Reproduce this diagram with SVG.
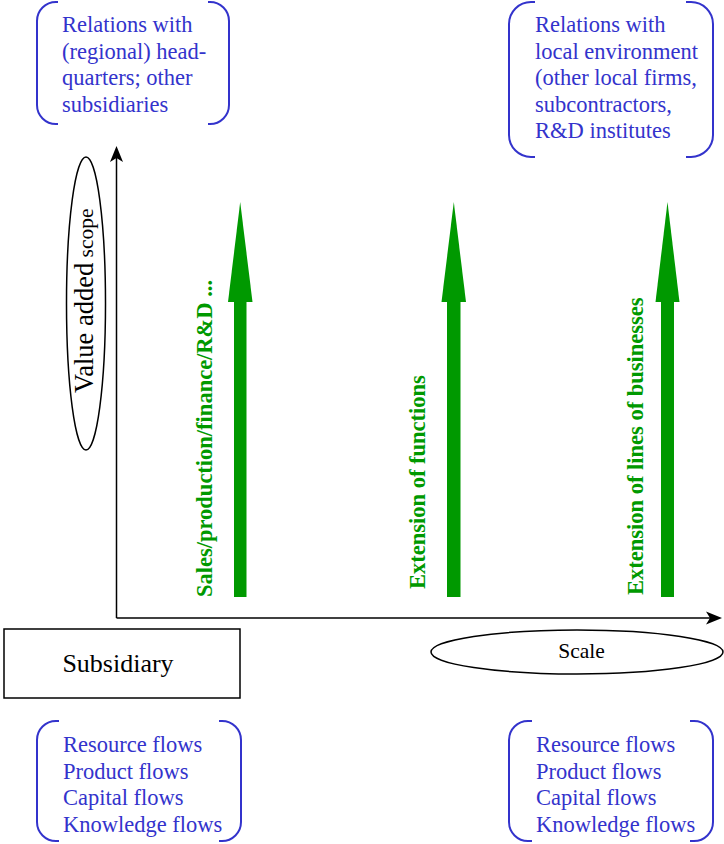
<svg xmlns="http://www.w3.org/2000/svg" width="724" height="844" viewBox="0 0 724 844">
<style>
.blue{font-family:'Liberation Serif','Times New Roman','DejaVu Serif',serif;font-size:22.5px;fill:#3333cc}
.brk{fill:none;stroke:#3333cc;stroke-width:2}
.blk{font-family:'Liberation Serif','Times New Roman','DejaVu Serif',serif;fill:#000}
.grn{font-family:'Liberation Serif','Times New Roman','DejaVu Serif',serif;font-size:22.5px;font-weight:bold;fill:#009900}
.ax{fill:none;stroke:#000;stroke-width:1.5}
.garrow{fill:#009900}
</style>
<rect width="724" height="844" fill="#fff"/>
<g id="connectors">
  <line class="ax" x1="116.5" y1="618" x2="116.5" y2="156"/>
  <path d="M116.5,146 L123,162 L116.5,158 L110,162 Z" fill="#000"/>
  <line class="ax" x1="116.5" y1="618" x2="712" y2="618"/>
  <path d="M722,618 L706,624.5 L710,618 L706,611.5 Z" fill="#000"/>
</g>
<g id="hq-relations">
  <path class="brk" d="M58,2 H56 A19,19 0 0 0 37,21 V105 A19,19 0 0 0 56,124 H58"/>
  <path class="brk" d="M208,2 H210 A19,19 0 0 1 229,21 V105 A19,19 0 0 1 210,124 H208"/>
  <text class="blue" x="62" y="32">Relations with</text>
  <text class="blue" x="62" y="58.5">(regional) head-</text>
  <text class="blue" x="62" y="85">quarters; other</text>
  <text class="blue" x="62" y="111.5">subsidiaries</text>
</g>
<g id="local-relations">
  <path class="brk" d="M535,2 H531 A22,22 0 0 0 509,24 V135 A22,22 0 0 0 531,157 H535"/>
  <path class="brk" d="M686,2 H691 A22,22 0 0 1 713,24 V135 A22,22 0 0 1 691,157 H686"/>
  <text class="blue" x="535" y="32">Relations with</text>
  <text class="blue" x="535" y="58.5">local environment</text>
  <text class="blue" x="535" y="85">(other local firms,</text>
  <text class="blue" x="535" y="111.5">subcontractors,</text>
  <text class="blue" x="535" y="138">R&amp;D institutes</text>
</g>
<g id="value-added-scope">
  <ellipse cx="86" cy="303.5" rx="19.5" ry="146.5" fill="none" stroke="#000" stroke-width="1.5"/>
  <text class="blk" transform="translate(93,393) rotate(-90)"><tspan font-size="26.5">Value added</tspan><tspan font-size="21.5"> scope</tspan></text>
</g>
<g id="arrow-sales">
  <rect class="garrow" x="234" y="300" width="12.5" height="297"/>
  <path class="garrow" d="M240.2,202 L252.5,302 L228,302 Z"/>
  <text class="grn" transform="translate(212,597) rotate(-90)">Sales/production/finance/R&amp;D ...</text>
</g>
<g id="arrow-functions">
  <rect class="garrow" x="447" y="300" width="13.5" height="297"/>
  <path class="garrow" d="M453.8,202 L466,302 L441.5,302 Z"/>
  <text class="grn" transform="translate(425,589) rotate(-90)">Extension of functions</text>
</g>
<g id="arrow-businesses">
  <rect class="garrow" x="661" y="300" width="13" height="297"/>
  <path class="garrow" d="M667.5,202 L679.5,302 L655.5,302 Z"/>
  <text class="grn" transform="translate(643,595) rotate(-90)">Extension of lines of businesses</text>
</g>
<g id="subsidiary">
  <rect x="4" y="629" width="236" height="69" fill="none" stroke="#000" stroke-width="1.5"/>
  <text class="blk" x="118" y="672" font-size="26" text-anchor="middle">Subsidiary</text>
</g>
<g id="scale">
  <ellipse cx="577" cy="652" rx="146" ry="22" fill="none" stroke="#000" stroke-width="1.5"/>
  <text class="blk" x="581.5" y="658" font-size="21.5" text-anchor="middle">Scale</text>
</g>
<g id="flows-left">
  <path class="brk" d="M59,721 H56 A19,19 0 0 0 37,740 V822 A19,19 0 0 0 56,841 H59"/>
  <path class="brk" d="M219,721 H222 A19,19 0 0 1 241,740 V822 A19,19 0 0 1 222,841 H219"/>
  <text class="blue" x="63" y="752">Resource flows</text>
  <text class="blue" x="63" y="778.5">Product flows</text>
  <text class="blue" x="63" y="805">Capital flows</text>
  <text class="blue" x="63" y="831.5">Knowledge flows</text>
</g>
<g id="flows-right">
  <path class="brk" d="M532,721 H528 A19,19 0 0 0 509,740 V822 A19,19 0 0 0 528,841 H532"/>
  <path class="brk" d="M690,721 H694 A19,19 0 0 1 713,740 V822 A19,19 0 0 1 694,841 H690"/>
  <text class="blue" x="536" y="752">Resource flows</text>
  <text class="blue" x="536" y="778.5">Product flows</text>
  <text class="blue" x="536" y="805">Capital flows</text>
  <text class="blue" x="536" y="831.5">Knowledge flows</text>
</g>
</svg>
